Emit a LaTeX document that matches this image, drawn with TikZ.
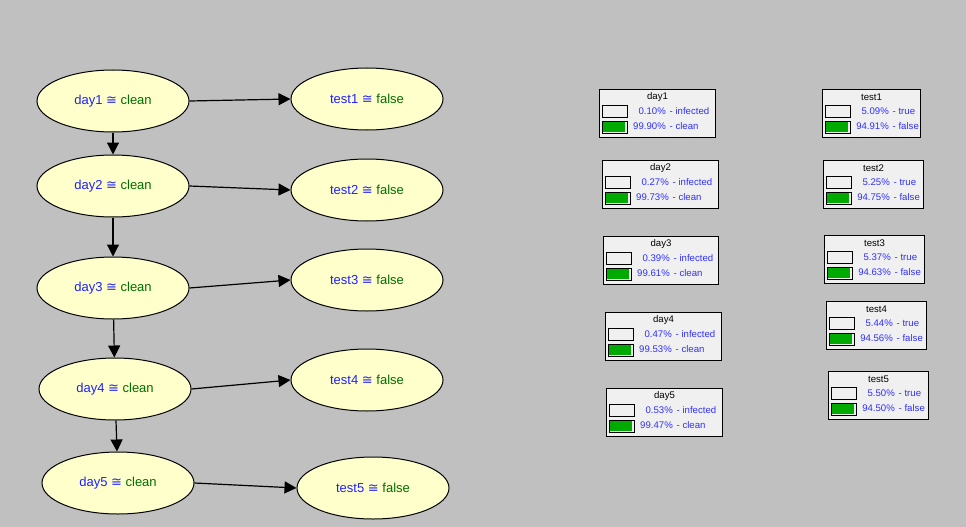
\documentclass[tikz,border=0pt]{standalone}
\usepackage{fontspec}
\setmainfont{Liberation Sans}
\newfontfamily\symf{DejaVu Sans}
\usetikzlibrary{shapes.geometric,arrows.meta,calc}
\definecolor{bg}{HTML}{C0C0C0}
\definecolor{ellfill}{HTML}{FFFFCC}
\definecolor{boxfill}{HTML}{F0F0F0}
\definecolor{barg}{HTML}{00AA00}
\definecolor{tblue}{HTML}{2020FF}
\definecolor{tgreen}{HTML}{006E00}
\definecolor{pblue}{HTML}{3030FF}
\newcommand\ellt[2]{{\color{tblue}#1\ {\symf ≅}\ }{\color{tgreen}#2}}
\newcommand\probbox[9]{%
  \node[pboxst, minimum width=#4pt, anchor=north west] (#1) at (#2,#3) {};
  \node[ttl] (#1-t) at ($(#1.north)+(0,8.5)$) {#5};
  \node[barst, anchor=north west] (#1-b1) at ($(#1.north west)+(3,16)$) {};
  \node[barst, anchor=north west] (#1-b2) at ($(#1.north west)+(3,32)$) {};
  \fill[barg] ($(#1-b2.north west)+(1,1)$) rectangle ++(21.5,10);
  \node[pct, anchor=east] (#1-p1) at ($(#1.north west)+(67,22)$) {#6\%};
  \node[pct, anchor=west] (#1-l1) at ($(#1-p1.east)+(3.5,0)$) {- #7};
  \node[pct, anchor=east] (#1-p2) at ($(#1.north west)+(67,37)$) {#8\%};
  \node[pct, anchor=west] (#1-l2) at ($(#1-p2.east)+(3.5,0)$) {- #9};
}
\begin{document}
\begin{tikzpicture}[x=1pt,y=-1pt,
  ell/.style={ellipse, draw=black, line width=1pt, fill=ellfill, minimum width=152pt, minimum height=62pt, inner sep=0pt, font=\fontsize{13}{15}\selectfont},
  conn/.style={line width=1.2pt, -{Triangle[length=12pt,width=12pt]}},
  pboxst/.style={draw=black, line width=1pt, fill=boxfill, minimum height=48pt, inner sep=0pt},
  barst/.style={draw=black, line width=1pt, fill=boxfill, minimum width=25pt, minimum height=12pt, inner sep=0pt},
  ttl/.style={inner sep=0pt, font=\fontsize{9.6}{12}\selectfont, text=black},
  pct/.style={inner sep=0pt, font=\fontsize{9.6}{12}\selectfont, text=pblue}]
\fill[bg] (0,0) rectangle (966,527);
\useasboundingbox (0,0) rectangle (966,527);

\node[ell] (d1) at (113,101) {\ellt{day1}{clean}};
\node[ell] (d2) at (113,186) {\ellt{day2}{clean}};
\node[ell] (d3) at (113,288) {\ellt{day3}{clean}};
\node[ell] (d4) at (115,389) {\ellt{day4}{clean}};
\node[ell] (d5) at (118,483) {\ellt{day5}{clean}};
\node[ell] (t1) at (367,99) {\ellt{test1}{false}};
\node[ell] (t2) at (367,190) {\ellt{test2}{false}};
\node[ell] (t3) at (367,280) {\ellt{test3}{false}};
\node[ell] (t4) at (367,380) {\ellt{test4}{false}};
\node[ell] (t5) at (373,488) {\ellt{test5}{false}};

\draw[conn] (d1) -- (d2);
\draw[conn] (d2) -- (d3);
\draw[conn] (d3) -- (d4);
\draw[conn] (d4) -- (d5);
\draw[conn] (d1.east) -- (t1.west);
\draw[conn] (d2.east) -- (t2.west);
\draw[conn] (d3.east) -- (t3.west);
\draw[conn] (d4.east) -- (t4.west);
\draw[conn] (d5.east) -- (t5.west);

\probbox{bd1}{599}{89}{116}{day1}{0.10}{infected}{99.90}{clean}
\probbox{bd2}{602}{160}{116}{day2}{0.27}{infected}{99.73}{clean}
\probbox{bd3}{603}{236}{115}{day3}{0.39}{infected}{99.61}{clean}
\probbox{bd4}{605}{312}{116}{day4}{0.47}{infected}{99.53}{clean}
\probbox{bd5}{606}{388}{116}{day5}{0.53}{infected}{99.47}{clean}
\probbox{bt1}{822}{89}{98}{test1}{5.09}{true}{94.91}{false}
\probbox{bt2}{823}{160}{100}{test2}{5.25}{true}{94.75}{false}
\probbox{bt3}{824}{235}{100}{test3}{5.37}{true}{94.63}{false}
\probbox{bt4}{826}{301}{100}{test4}{5.44}{true}{94.56}{false}
\probbox{bt5}{828}{371}{100}{test5}{5.50}{true}{94.50}{false}
\end{tikzpicture}
\end{document}
